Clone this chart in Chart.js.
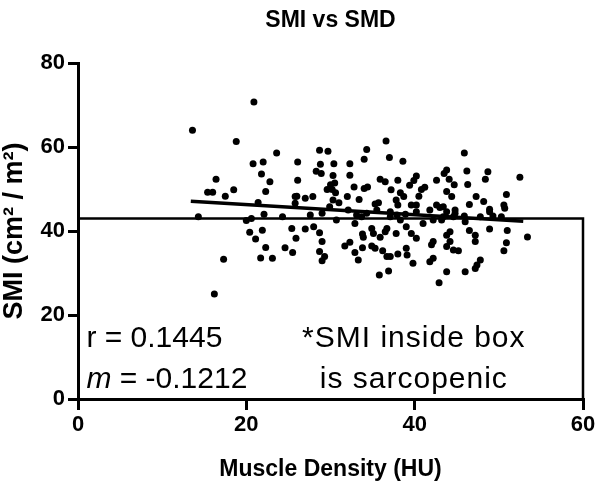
<!DOCTYPE html>
<html>
<head>
<meta charset="utf-8">
<style>
  html, body { margin: 0; padding: 0; background: #fff; }
</style>
</head>
<body>
<canvas id="myChart" width="600" height="489"></canvas>
<script src="https://cdn.jsdelivr.net/npm/chart.js@4.4.1/dist/chart.umd.min.js"></script>
<script>
// muscle density (HU) and SMI (cm2/m2), one pair per patient
const smd = [
  20.9, 13.6, 18.8, 23.6, 20.8, 22.0, 26.1, 21.8, 22.8, 26.1, 16.4, 15.4, 16.0, 18.5, 17.5, 22.3, 25.8, 21.4, 14.3, 20.6, 22.1, 24.3, 25.8,
  20.0, 20.4, 21.9, 21.1, 25.4, 25.9, 22.3, 24.6, 25.5, 21.7, 23.1, 17.3, 16.2,
  36.6, 28.7, 29.7, 34.3, 34.0, 37.0, 38.6, 28.8, 30.4, 32.3, 28.3, 28.9, 30.3, 32.3, 35.9, 36.5, 38.0, 40.2, 39.9, 39.4, 42.6, 43.8, 43.5,
  30.0, 30.5, 29.6, 30.2, 32.8, 34.0, 34.4, 37.2, 38.3, 38.7, 40.8, 41.2, 40.5, 43.8, 26.0, 27.0, 27.9, 30.6, 30.3, 32.0, 33.4, 31.0,
  35.3, 35.7, 37.8, 38.0, 39.6, 40.2, 42.6, 43.0,
  27.6, 29.0, 29.9, 32.1, 33.1, 34.3, 35.5, 37.1, 37.9, 38.9, 40.2, 41.8, 43.4,
  27.0, 28.0, 28.7, 29.0, 28.7, 29.3, 29.0, 31.7, 32.3, 32.9, 33.3, 33.8, 33.8, 33.9, 34.9, 35.1, 34.9, 35.3, 35.9, 36.5, 36.7,
  36.2, 36.7, 37.1, 37.8, 38.0, 39.0, 39.1, 39.0, 39.6, 40.2, 39.8, 35.8, 36.9, 42.2, 42.0, 42.2, 41.8, 42.9, 43.8, 43.8, 43.8,
  30.7, 32.9, 33.7, 37.1, 38.3, 41.0, 42.2, 43.2,
  45.9, 46.2, 48.7, 48.4, 52.5, 44.1, 44.7, 46.3, 44.4, 47.3, 48.2, 46.5, 50.9, 50.6, 50.7, 48.9, 44.8,
  43.4, 44.6, 45.9, 47.8, 49.3, 50.3,
  43.8, 44.8, 46.0, 48.9, 44.2, 44.2, 44.6, 45.2, 46.5, 47.2, 47.2, 48.9, 51.0, 50.9, 50.6, 53.4, 47.8, 47.4, 47.2, 46.0
];
const smi = [
  70.7, 64.0, 61.3, 58.6, 56.0, 56.4, 56.4, 53.6, 51.7, 52.1, 52.3, 49.2, 49.2, 49.8, 48.3, 49.4, 48.2, 46.8, 43.4, 43.0, 44.0, 43.4, 46.6,
  42.5, 39.7, 40.2, 38.1, 40.6, 38.3, 36.1, 36.0, 34.9, 33.6, 33.5, 33.3, 25.0,
  61.4, 59.2, 59.0, 59.4, 57.1, 57.5, 56.6, 55.9, 56.0, 56.0, 54.2, 53.7, 53.2, 53.3, 52.3, 51.7, 52.1, 53.1, 52.0, 50.9, 52.1, 54.5, 53.7,
  51.0, 51.4, 49.9, 49.9, 50.5, 50.1, 50.5, 49.8, 49.1, 48.2, 49.9, 50.4, 48.3, 49.4, 48.3, 47.8, 48.2, 49.1, 47.4, 48.2, 47.5, 46.7,
  46.4, 46.7, 47.4, 46.2, 46.2, 46.2, 46.2, 45.6,
  43.8, 44.2, 45.8, 45.0, 43.8, 44.2, 45.0, 44.6, 43.8, 44.0, 44.6, 45.0, 45.8,
  40.5, 41.0, 39.6, 37.5, 35.1, 33.9, 32.9, 36.4, 37.3, 34.9, 33.1, 36.0, 39.3, 38.5, 40.6, 39.4, 36.4, 35.9, 38.5, 39.8, 40.6,
  35.3, 33.9, 33.9, 39.4, 34.5, 35.9, 34.3, 41.0, 39.4, 38.3, 32.3, 29.5, 30.5, 37.5, 36.7, 33.5, 32.7, 27.7, 30.3, 36.3, 39.0,
  42.6, 41.8, 43.4, 43.4, 42.6, 41.8, 42.6, 42.6,
  58.6, 54.3, 54.1, 52.3, 52.8, 52.3, 51.0, 51.1, 48.2, 48.2, 47.0, 46.3, 48.7, 46.2, 45.4, 45.2, 45.0,
  43.4, 43.4, 43.6, 43.4, 43.6, 43.4,
  44.6, 44.2, 42.2, 44.6, 39.8, 37.5, 35.5, 35.3, 40.1, 39.0, 37.5, 40.5, 40.1, 37.2, 35.3, 38.6, 33.1, 31.9, 31.1, 30.3
];

// linear fit end points
const fitX = [13.4, 52.9];
const fitY = [47.1, 42.3];

// sarcopenia cut-off box
const boxX = [0, 60, 60];
const boxY = [43, 43, 0];

const xTicks = [0, 20, 40, 60];
const yTicks = [0, 20, 40, 60, 80];

Chart.defaults.font.family = "'Liberation Sans', Arial, sans-serif";
Chart.defaults.color = "#000";

const points = smd.map((x, i) => ({ x: x, y: smi[i] }));
const fitLine = fitX.map((x, i) => ({ x: x, y: fitY[i] }));
const boxLine = boxX.map((x, i) => ({ x: x, y: boxY[i] }));

// r / m and the box note inside the plot
const notes = {
  id: "notes",
  afterDatasetsDraw(chart) {
    const ctx = chart.ctx;
    const xs = chart.scales.x;
    const ys = chart.scales.y;
    const f = "30px 'Liberation Sans', Arial, sans-serif";
    ctx.save();
    ctx.fillStyle = "#000";
    ctx.textBaseline = "alphabetic";
    ctx.font = f;
    const left = xs.getPixelForValue(1.0);
    const row1 = ys.getPixelForValue(12.3);
    const row2 = ys.getPixelForValue(2.6);
    ctx.textAlign = "left";
    ctx.fillText("r = 0.1445", left, row1);
    ctx.font = "italic " + f;
    ctx.fillText("m", left, row2);
    const mw = ctx.measureText("m").width;
    ctx.font = f;
    ctx.fillText(" = -0.1212", left + mw, row2);
    ctx.textAlign = "center";
    ctx.letterSpacing = "1px";
    const mid = xs.getPixelForValue(39.9);
    ctx.fillText("*SMI inside box", mid, row1);
    ctx.fillText("is sarcopenic", mid, row2);
    ctx.restore();
  }
};

new Chart(document.getElementById("myChart"), {
  type: "scatter",
  data: {
    datasets: [
      {
        data: points,
        backgroundColor: "#000",
        borderWidth: 0,
        pointRadius: 3.5,
        pointHoverRadius: 3.5
      },
      {
        type: "line",
        data: fitLine,
        borderColor: "#000",
        borderWidth: 3.5,
        pointRadius: 0,
        fill: false
      },
      {
        type: "line",
        data: boxLine,
        borderColor: "#000",
        borderWidth: 2.5,
        pointRadius: 0,
        fill: false,
        clip: false
      }
    ]
  },
  options: {
    responsive: false,
    animation: false,
    devicePixelRatio: 1,
    layout: { padding: { left: 0, right: 17, top: 0, bottom: 0 } },
    plugins: {
      legend: { display: false },
      tooltip: { enabled: false },
      title: {
        display: true,
        fullSize: false,
        text: "SMI vs SMD",
        color: "#000",
        font: { size: 23, weight: "bold" },
        padding: { top: 7, bottom: 28.4 }
      }
    },
    scales: {
      x: {
        type: "linear",
        min: 0,
        max: 60,
        afterBuildTicks: (s) => { s.ticks = xTicks.map(v => ({ value: v })); },
        afterFit: (s) => { s.height = 90; },
        ticks: { font: { size: 22, weight: "bold" }, padding: 2 },
        grid: { drawOnChartArea: false, drawTicks: true, tickLength: 11, color: "#000", lineWidth: 3 },
        border: { display: true, color: "#000", width: 3 },
        title: {
          display: true,
          text: "Muscle Density (HU)",
          font: { size: 23, weight: "bold" },
          padding: { top: 0, bottom: 6 }
        }
      },
      y: {
        type: "linear",
        min: 0,
        max: 80,
        afterBuildTicks: (s) => { s.ticks = yTicks.map(v => ({ value: v })); },
        afterFit: (s) => { s.width = 78; },
        ticks: { font: { size: 22, weight: "bold" }, padding: 3 },
        grid: { drawOnChartArea: false, drawTicks: true, tickLength: 10, color: "#000", lineWidth: 3 },
        border: { display: true, color: "#000", width: 3 },
        title: {
          display: true,
          text: "SMI (cm\u00b2 / m\u00b2)",
          font: { size: 27, weight: "bold" },
          padding: { top: -2, bottom: 0 }
        }
      }
    }
  },
  plugins: [notes]
});
</script>
</body>
</html>
